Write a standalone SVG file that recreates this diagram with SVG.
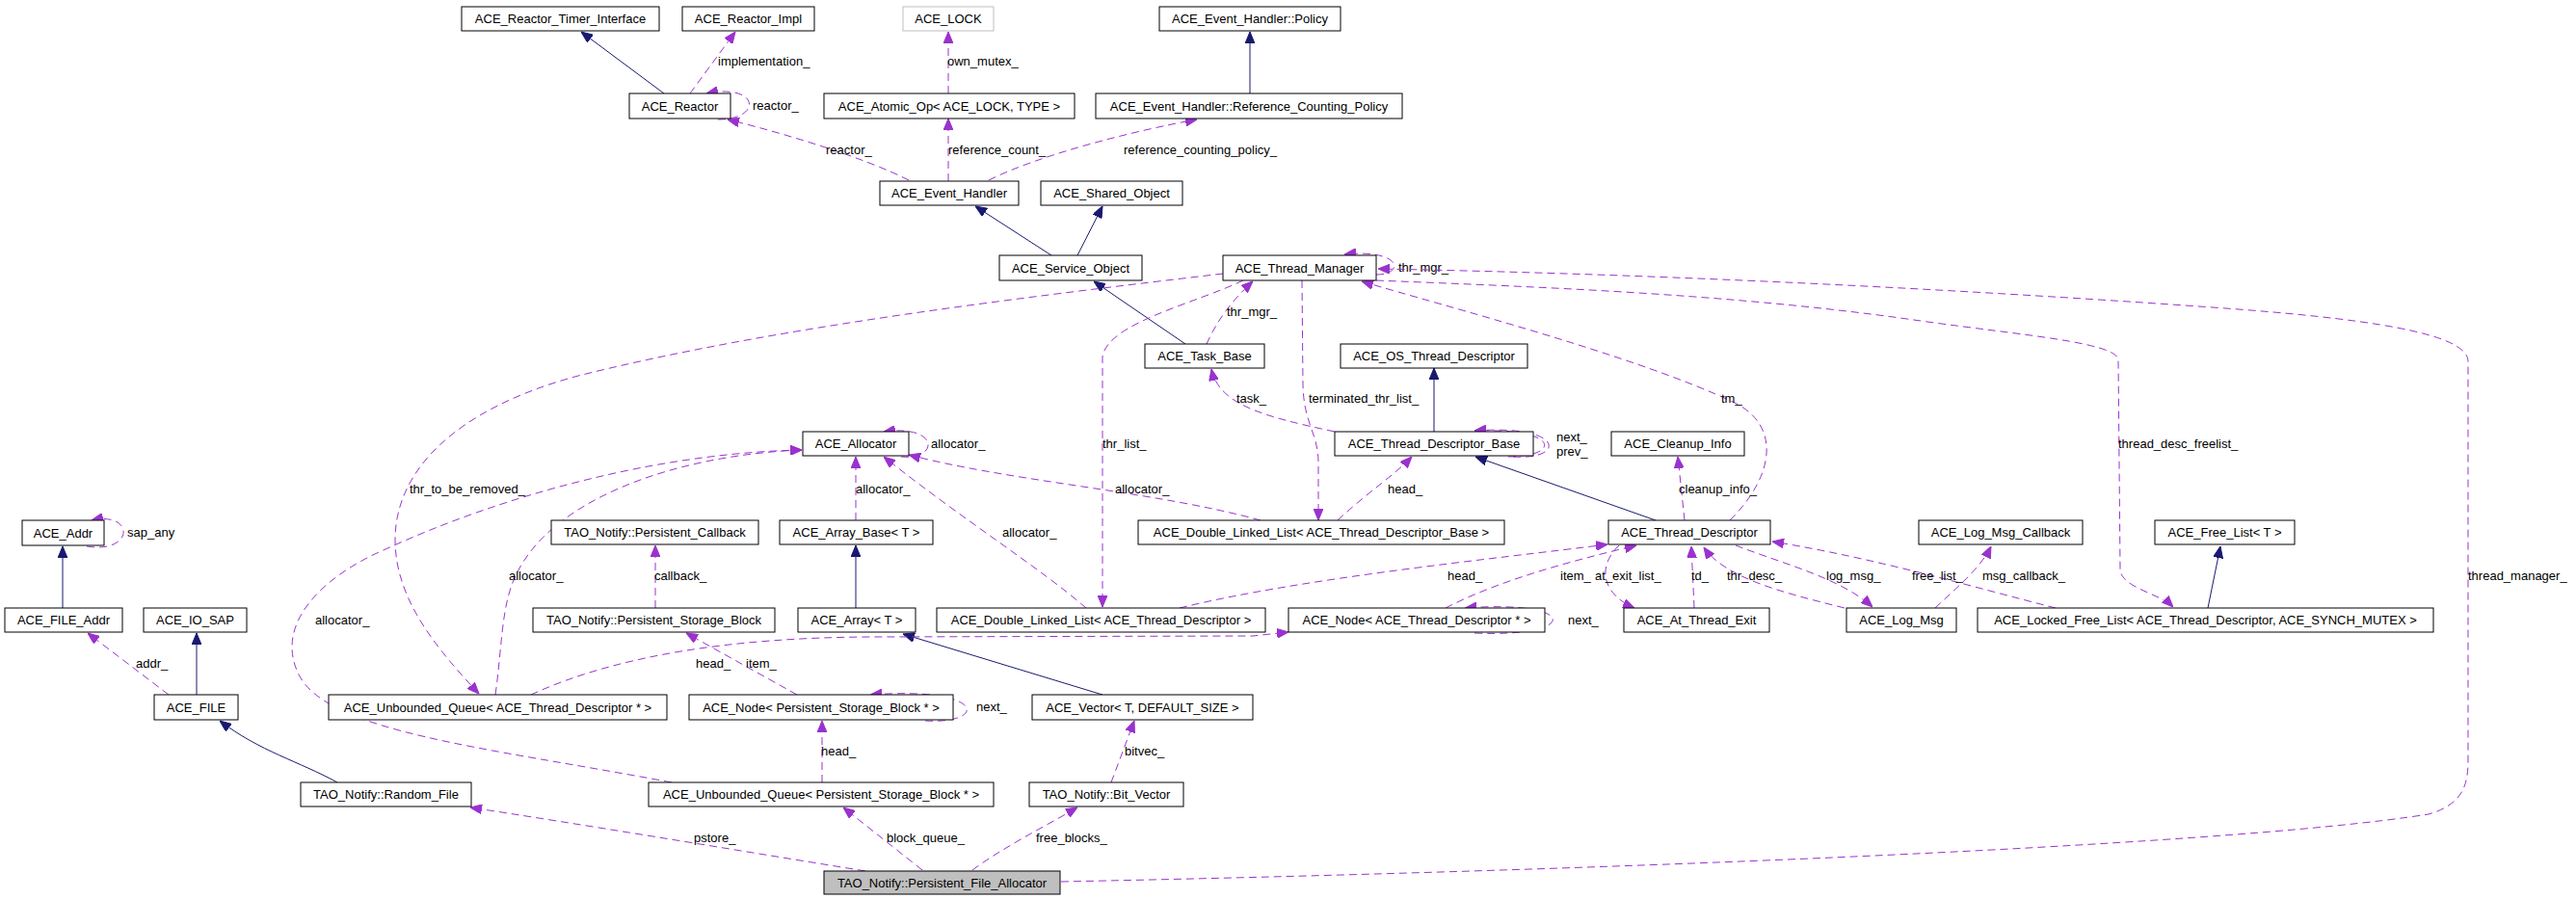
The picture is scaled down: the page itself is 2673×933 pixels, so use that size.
<svg xmlns="http://www.w3.org/2000/svg" width="2673" height="933" viewBox="0 0 2673 933">
<style>
.n rect{fill:#fff;stroke:#000;stroke-width:1}
.g rect{fill:#bfbfbf;stroke:#000}
.k rect{fill:#fff;stroke:#bfbfbf}
text{font-family:"Liberation Sans",Arial,sans-serif;font-size:13px;fill:#000}
.n text,.g text,.k text{text-anchor:middle}
.u{fill:none;stroke:#9a32cd;stroke-width:1;stroke-dasharray:8,5;marker-end:url(#ap)}
.i{fill:none;stroke:#191970;stroke-width:1;marker-end:url(#an)}
</style>
<defs>
<marker id="ap" markerUnits="userSpaceOnUse" markerWidth="12" markerHeight="10" viewBox="0 0 12 10" refX="12" refY="5" orient="auto"><path d="M0,0 L12,5 L0,10 z" fill="#9a32cd" stroke="#9a32cd"/></marker>
<marker id="an" markerUnits="userSpaceOnUse" markerWidth="12" markerHeight="10" viewBox="0 0 12 10" refX="12" refY="5" orient="auto"><path d="M0,0 L12,5 L0,10 z" fill="#191970" stroke="#191970"/></marker>
</defs>
<rect width="2673" height="933" fill="#fff"/>
<g id="edges">
<path class="i" d="M689,97 L603,33"/>
<path class="i" d="M1297,97 L1297,33"/>
<path class="i" d="M1091,265 L1012,214"/>
<path class="i" d="M1118,265 L1144,214"/>
<path class="i" d="M1230,357 L1135,292"/>
<path class="i" d="M1488,448 L1488,382"/>
<path class="i" d="M1718,540 L1531,474"/>
<path class="i" d="M888,631 L888,566"/>
<path class="i" d="M65,631 L65,567"/>
<path class="i" d="M204,721 L204,657"/>
<path class="i" d="M350,812 C310,790 270,780 228,748"/>
<path class="i" d="M1144,721 L937,658"/>
<path class="i" d="M2291,631 L2304,567"/>

<path class="u" d="M716,97 L763,33"/>
<text x="745" y="67.5">implementation_</text>
<path class="u" d="M745,124 C792,124 788,86 733,97"/>
<text x="781" y="114">reactor_</text>
<path class="u" d="M943,187 C900,165 820,140 755,124"/>
<text x="857" y="159.5">reactor_</text>
<path class="u" d="M984,97 L984,33"/>
<text x="983" y="67.5">own_mutex_</text>
<path class="u" d="M984,188 L984,123"/>
<text x="984" y="159.5">reference_count_</text>
<path class="u" d="M1026,187 C1080,160 1180,135 1242,124"/>
<text x="1166" y="159.5">reference_counting_policy_</text>
<path class="u" d="M1428,285 C1458,285 1455,258 1395,264"/>
<text x="1451" y="281.5">thr_mgr_</text>
<path class="u" d="M1101,915 C1600,905 2300,880 2520,845 C2555,835 2561,815 2561,790 L2561,375 C2561,345 2450,330 2296,319 C2000,298 1700,284 1430,279"/>
<text x="2561" y="601.5">thread_manager_</text>
<path class="u" d="M1428,291 C1600,298 1800,305 1993,333 C2100,348 2190,355 2198,372 L2200,590 C2200,610 2240,615 2255,630"/>
<text x="2198" y="464.5">thread_desc_freelist_</text>
<path class="u" d="M1269,284 C1050,310 800,340 600,390 C470,425 410,490 410,560 C410,620 450,670 497,720"/>
<text x="425" y="511.5">thr_to_be_removed_</text>
<path class="u" d="M1252,357 C1262,335 1275,315 1300,292"/>
<text x="1273" y="327.5">thr_mgr_</text>
<path class="u" d="M1290,291 C1240,315 1150,335 1144,370 L1144,630"/>
<text x="1144" y="464.5">thr_list_</text>
<path class="u" d="M1351,291 L1352,400 C1353,440 1368,450 1368,480 L1368,540"/>
<text x="1358" y="417.5">terminated_thr_list_</text>
<path class="u" d="M1795,540 C1845,490 1845,440 1800,418 C1700,370 1500,318 1413,292"/>
<text x="1786" y="417.5">tm_</text>
<path class="u" d="M1385,448 C1310,432 1265,420 1257,383"/>
<text x="1283" y="417.5">task_</text>
<path class="u" d="M1570,474 C1625,478 1625,440 1530,447"/>
<path class="u" d="M1565,474 C1620,474 1620,444 1530,447"/>
<text x="1615" y="457.5">next_</text>
<text x="1615" y="472.5">prev_</text>
<path class="u" d="M1388,540 C1420,510 1445,495 1465,474"/>
<text x="1440" y="511.5">head_</text>
<path class="u" d="M1308,540 C1200,510 1050,500 943,472"/>
<text x="1157" y="511.5">allocator_</text>
<path class="u" d="M935,474 C975,478 975,440 917,448"/>
<text x="966" y="464.5">allocator_</text>
<path class="u" d="M1127,631 C1080,590 1000,540 917,474"/>
<text x="1040" y="556.5">allocator_</text>
<path class="u" d="M888,540 L888,474"/>
<text x="888" y="511.5">allocator_</text>
<path class="u" d="M514,721 C520,680 520,640 530,610 C560,520 700,472 832,467"/>
<text x="528" y="601.5">allocator_</text>
<path class="u" d="M697,812 C500,775 340,760 310,700 C285,650 330,600 400,570 C520,515 680,470 832,467"/>
<text x="327" y="647.5">allocator_</text>
<path class="u" d="M680,631 L680,566"/>
<text x="679" y="601.5">callback_</text>
<path class="u" d="M90,567 C140,575 140,530 95,540"/>
<text x="132" y="556.5">sap_any</text>
<path class="u" d="M175,721 L91,657"/>
<text x="141" y="692.5">addr_</text>
<path class="u" d="M898,904 C750,880 600,855 488,838"/>
<text x="720" y="873.5">pstore_</text>
<path class="u" d="M957,903 L875,838"/>
<text x="920" y="873.5">block_queue_</text>
<path class="u" d="M1009,903 C1040,880 1080,860 1118,838"/>
<text x="1075" y="873.5">free_blocks_</text>
<path class="u" d="M1153,812 L1177,748"/>
<text x="1167" y="783.5">bitvec_</text>
<path class="u" d="M853,812 L853,748"/>
<text x="852" y="783.5">head_</text>
<path class="u" d="M960,748 C1025,752 1025,712 903,721"/>
<text x="1013" y="737.5">next_</text>
<path class="u" d="M827,721 L712,657"/>
<text x="774" y="692.5">item_</text>
<path class="u" d="M551,721 C640,680 760,662 900,661 L1300,660 L1337,656"/>
<text x="722" y="692.5">head_</text>
<path class="u" d="M1530,657 C1640,662 1640,622 1520,631"/>
<text x="1627" y="647.5">next_</text>
<path class="u" d="M1500,631 C1560,600 1640,580 1698,566"/>
<text x="1619" y="601.5">item_</text>
<path class="u" d="M1224,631 C1350,600 1550,580 1668,565"/>
<text x="1502" y="601.5">head_</text>
<path class="u" d="M1758,631 L1755,567"/>
<text x="1755" y="601.5">td_</text>
<path class="u" d="M1680,566 C1655,590 1665,618 1696,631"/>
<text x="1655" y="601.5">at_exit_list_</text>
<path class="u" d="M1748,540 L1741,474"/>
<text x="1742" y="511.5">cleanup_info_</text>
<path class="u" d="M1801,566 C1850,585 1910,600 1943,630"/>
<text x="1895" y="601.5">log_msg_</text>
<path class="u" d="M1914,631 C1850,615 1790,600 1768,568"/>
<text x="1792" y="601.5">thr_desc_</text>
<path class="u" d="M2008,631 C2030,610 2055,590 2066,567"/>
<text x="2057" y="601.5">msg_callback_</text>
<path class="u" d="M2133,631 C2050,610 1950,580 1839,562"/>
<text x="1984" y="601.5">free_list_</text>
</g>
<g id="n1" class="n"><rect x="479" y="7" width="205" height="25"/><text x="581.5" y="24">ACE_Reactor_Timer_Interface</text></g>
<g id="n2" class="n"><rect x="708" y="7" width="137" height="25"/><text x="776.5" y="24">ACE_Reactor_Impl</text></g>
<g id="n3" class="k"><rect x="937" y="7" width="94" height="25"/><text x="984" y="24">ACE_LOCK</text></g>
<g id="n4" class="n"><rect x="1203" y="7" width="188" height="25"/><text x="1297" y="24">ACE_Event_Handler::Policy</text></g>
<g id="n5" class="n"><rect x="653" y="97" width="105" height="26"/><text x="705.5" y="114.5">ACE_Reactor</text></g>
<g id="n6" class="n"><rect x="855" y="97" width="260" height="26"/><text x="985" y="114.5">ACE_Atomic_Op&lt; ACE_LOCK, TYPE &gt;</text></g>
<g id="n7" class="n"><rect x="1137" y="97" width="318" height="26"/><text x="1296" y="114.5">ACE_Event_Handler::Reference_Counting_Policy</text></g>
<g id="n8" class="n"><rect x="913" y="188" width="144" height="25"/><text x="985" y="205">ACE_Event_Handler</text></g>
<g id="n9" class="n"><rect x="1080" y="188" width="147" height="25"/><text x="1153.5" y="205">ACE_Shared_Object</text></g>
<g id="n10" class="n"><rect x="1037" y="265" width="148" height="26"/><text x="1111" y="282.5">ACE_Service_Object</text></g>
<g id="n11" class="n"><rect x="1269" y="265" width="159" height="26"/><text x="1348.5" y="282.5">ACE_Thread_Manager</text></g>
<g id="n12" class="n"><rect x="1188" y="357" width="124" height="25"/><text x="1250" y="374">ACE_Task_Base</text></g>
<g id="n13" class="n"><rect x="1391" y="357" width="194" height="25"/><text x="1488" y="374">ACE_OS_Thread_Descriptor</text></g>
<g id="n14" class="n"><rect x="833" y="448" width="110" height="25"/><text x="888" y="465">ACE_Allocator</text></g>
<g id="n15" class="n"><rect x="1385" y="448" width="206" height="25"/><text x="1488" y="465">ACE_Thread_Descriptor_Base</text></g>
<g id="n16" class="n"><rect x="1672" y="448" width="138" height="25"/><text x="1741" y="465">ACE_Cleanup_Info</text></g>
<g id="n17" class="n"><rect x="23" y="540" width="85" height="26"/><text x="65.5" y="557.5">ACE_Addr</text></g>
<g id="n18" class="n"><rect x="572" y="540" width="215" height="25"/><text x="679.5" y="557">TAO_Notify::Persistent_Callback</text></g>
<g id="n19" class="n"><rect x="809" y="540" width="159" height="25"/><text x="888.5" y="557">ACE_Array_Base&lt; T &gt;</text></g>
<g id="n20" class="n"><rect x="1181" y="540" width="380" height="25"/><text x="1371" y="557">ACE_Double_Linked_List&lt; ACE_Thread_Descriptor_Base &gt;</text></g>
<g id="n21" class="n"><rect x="1669" y="540" width="168" height="25"/><text x="1753" y="557">ACE_Thread_Descriptor</text></g>
<g id="n22" class="n"><rect x="1991" y="540" width="170" height="25"/><text x="2076" y="557">ACE_Log_Msg_Callback</text></g>
<g id="n23" class="n"><rect x="2236" y="540" width="145" height="25"/><text x="2308.5" y="557">ACE_Free_List&lt; T &gt;</text></g>
<g id="n24" class="n"><rect x="5" y="631" width="122" height="25"/><text x="66" y="648">ACE_FILE_Addr</text></g>
<g id="n25" class="n"><rect x="149" y="631" width="107" height="25"/><text x="202.5" y="648">ACE_IO_SAP</text></g>
<g id="n26" class="n"><rect x="553" y="631" width="251" height="25"/><text x="678.5" y="648">TAO_Notify::Persistent_Storage_Block</text></g>
<g id="n27" class="n"><rect x="828" y="631" width="122" height="25"/><text x="889" y="648">ACE_Array&lt; T &gt;</text></g>
<g id="n28" class="n"><rect x="972" y="631" width="341" height="25"/><text x="1142.5" y="648">ACE_Double_Linked_List&lt; ACE_Thread_Descriptor &gt;</text></g>
<g id="n29" class="n"><rect x="1337" y="631" width="266" height="25"/><text x="1470" y="648">ACE_Node&lt; ACE_Thread_Descriptor * &gt;</text></g>
<g id="n30" class="n"><rect x="1685" y="631" width="151" height="25"/><text x="1760.5" y="648">ACE_At_Thread_Exit</text></g>
<g id="n31" class="n"><rect x="1916" y="631" width="114" height="25"/><text x="1973" y="648">ACE_Log_Msg</text></g>
<g id="n32" class="n"><rect x="2052" y="631" width="473" height="25"/><text x="2288.5" y="648">ACE_Locked_Free_List&lt; ACE_Thread_Descriptor, ACE_SYNCH_MUTEX &gt;</text></g>
<g id="n33" class="n"><rect x="160" y="721" width="87" height="26"/><text x="203.5" y="738.5">ACE_FILE</text></g>
<g id="n34" class="n"><rect x="341" y="721" width="351" height="26"/><text x="516.5" y="738.5">ACE_Unbounded_Queue&lt; ACE_Thread_Descriptor * &gt;</text></g>
<g id="n35" class="n"><rect x="715" y="721" width="274" height="26"/><text x="852" y="738.5">ACE_Node&lt; Persistent_Storage_Block * &gt;</text></g>
<g id="n36" class="n"><rect x="1071" y="721" width="229" height="26"/><text x="1185.5" y="738.5">ACE_Vector&lt; T, DEFAULT_SIZE &gt;</text></g>
<g id="n37" class="n"><rect x="312" y="812" width="177" height="25"/><text x="400.5" y="829">TAO_Notify::Random_File</text></g>
<g id="n38" class="n"><rect x="673" y="812" width="358" height="25"/><text x="852" y="829">ACE_Unbounded_Queue&lt; Persistent_Storage_Block * &gt;</text></g>
<g id="n39" class="n"><rect x="1068" y="812" width="160" height="25"/><text x="1148" y="829">TAO_Notify::Bit_Vector</text></g>
<g id="n40" class="g"><rect x="855" y="904" width="245" height="24"/><text x="977.5" y="920.5">TAO_Notify::Persistent_File_Allocator</text></g>
</svg>
